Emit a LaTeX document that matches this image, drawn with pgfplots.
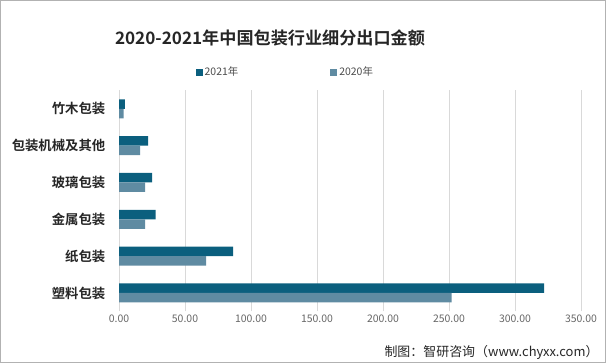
\documentclass[border=0pt]{standalone}
\usepackage{fontspec}
\usepackage{pgfplots}
\pgfplotsset{compat=1.18}
\setmainfont{Noto Sans CJK SC}[BoldFont={Noto Sans CJK SC Bold}]
\definecolor{c21}{HTML}{0B5F7E}
\definecolor{c20}{HTML}{5F8BA2}
\begin{document}
\begin{tikzpicture}
\path[use as bounding box] (0bp,0bp) rectangle (606bp,363bp);
\draw[gray!60, line width=1.2bp] (0.6bp,0.6bp) rectangle (605.4bp,362.4bp);
\node[font=\bfseries\fontsize{17.2}{20}\selectfont, text=black!85] at (270bp,325bp) {2020-2021年中国包装行业细分出口金额};
\begin{axis}[
  at={(119bp,51.6bp)}, anchor=south west,
  scale only axis, width=462bp, height=221bp,
  xbar, bar width=9.5bp,
  xmin=0, xmax=350, ymin=-0.5, ymax=5.5,
  xtick={0,50,...,350},
  ytick={0,1,2,3,4,5},
  yticklabels={塑料包装,纸包装,金属包装,玻璃包装,包装机械及其他,竹木包装},
  xmajorgrids, grid style={gray!30, line width=0.8bp},
  axis line style={draw=none}, tick style={draw=none},
  /pgf/number format/.cd, fixed, fixed zerofill, precision=2, assume math mode=true,
  /pgfplots/.cd,
  xticklabel style={font=\fontsize{10.5}{12}\selectfont, text=black!60},
  yticklabel style={font=\bfseries\fontsize{13.4}{15}\selectfont, text=black!85, xshift=-6bp},
  legend style={at={(0.36,1.083)}, anchor=center, draw=none, fill=none,
    legend columns=2, font=\fontsize{10.5}{12}\selectfont, text=black!70,
    /tikz/every even column/.append style={column sep=90bp}},
  legend image code/.code={\fill[#1] (0bp,-3.5bp) rectangle (7bp,3.5bp);},
]
\addplot[fill=c21, draw=none, bar shift=4.75bp] coordinates {(322,0) (86.4,1) (27.8,2) (25,3) (22,4) (4.5,5)};
\addlegendentry{2021年}
\addplot[fill=c20, draw=none, bar shift=-4.75bp] coordinates {(252,0) (66,1) (19.7,2) (19.7,3) (16,4) (3.5,5)};
\addlegendentry{2020年}
\end{axis}
\node[anchor=east, font=\fontsize{13}{15}\selectfont, text=black!85] at (602bp,11bp) {制图：智研咨询（www.chyxx.com）};
\end{tikzpicture}
\end{document}
